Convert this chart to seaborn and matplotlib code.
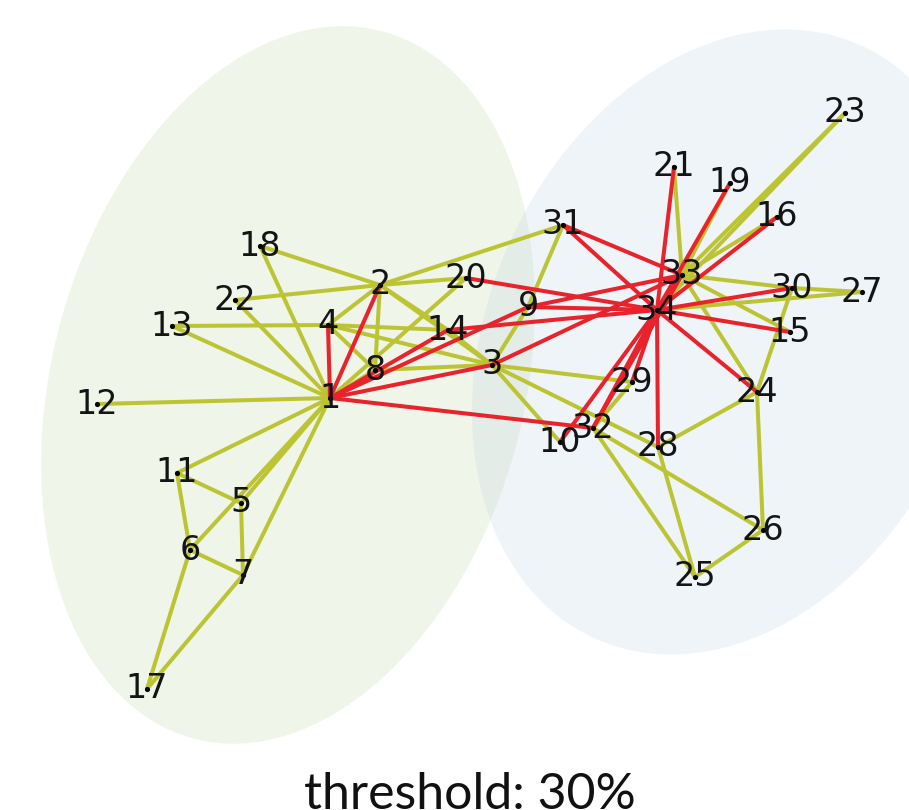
import matplotlib
matplotlib.use("Agg")
import matplotlib.pyplot as plt
from matplotlib.patches import Ellipse
import pandas as pd
import seaborn as sns

# Node ids and layout positions (x to the right, y downward)
node_ids = list(range(1, 35))
node_x = [330, 380, 492, 328, 241, 190, 243, 375, 528, 560,
          177, 97, 172, 448, 790, 777, 147, 260, 730, 466,
          674, 235, 845, 757, 695, 763, 862, 658, 632, 792,
          563, 593, 682, 657]
node_y = [398, 285, 365, 325, 503, 550, 575, 370, 307, 442,
          473, 404, 326, 330, 332, 217, 689, 246, 183, 278,
          167, 300, 113, 392, 577, 530, 292, 447, 382, 288,
          225, 428, 275, 310]

# Zachary karate club friendships
edge_src = [1, 1, 1, 1, 1, 1, 1, 1, 1, 1, 1, 1, 1, 1, 1, 1,
            2, 2, 2, 2, 2, 2, 2, 2,
            3, 3, 3, 3, 3, 3, 3, 3,
            4, 4, 4, 5, 5, 6, 6, 6, 7,
            9, 9, 9, 10, 14, 15, 15, 16, 16, 19, 19, 20, 21, 21, 23, 23,
            24, 24, 24, 24, 24, 25, 25, 25, 26, 27, 27, 28, 29, 29,
            30, 30, 31, 31, 32, 32, 33]
edge_dst = [2, 3, 4, 5, 6, 7, 8, 9, 11, 12, 13, 14, 18, 20, 22, 32,
            3, 4, 8, 14, 18, 20, 22, 31,
            4, 8, 9, 10, 14, 28, 29, 33,
            8, 13, 14, 7, 11, 7, 11, 17, 17,
            31, 33, 34, 34, 34, 33, 34, 33, 34, 33, 34, 34, 33, 34, 33, 34,
            26, 28, 30, 33, 34, 26, 28, 32, 32, 30, 34, 34, 32, 34,
            33, 34, 33, 34, 33, 34, 34]

# Ties above the 30% threshold
strong_edges = [(1, 2), (1, 3), (1, 4), (1, 9), (1, 14), (1, 32),
                (3, 33), (9, 33), (9, 34), (10, 34), (14, 34), (15, 34),
                (16, 34), (19, 34), (20, 34), (21, 34), (24, 34), (28, 34),
                (29, 34), (30, 34), (31, 33), (31, 34), (32, 33), (32, 34),
                (33, 34)]

title_text = "threshold: 30%"

sns.set_style("white")
fig = plt.figure(figsize=(9.09, 8.10), dpi=100)
ax = fig.add_axes([0, 0, 1, 1])

# Community ellipses
ax.add_patch(Ellipse((288, 385), 472, 732, angle=15,
                     facecolor="#b4cf94", alpha=0.2, edgecolor="none", zorder=0))
ax.add_patch(Ellipse((728, 342), 480, 650, angle=24,
                     facecolor="#a8c4e0", alpha=0.18, edgecolor="none", zorder=0))

pos = {n: (x, y) for n, x, y in zip(node_ids, node_x, node_y)}
strong = set(strong_edges)
rows = []
for k, (a, b) in enumerate(zip(edge_src, edge_dst)):
    kind = "strong" if (a, b) in strong else "weak"
    for n in (a, b):
        rows.append({"edge": k, "x": pos[n][0], "y": pos[n][1], "kind": kind})
edges = pd.DataFrame(rows)

weak = edges[edges.kind == "weak"]
red = edges[edges.kind == "strong"]
sns.lineplot(data=weak, x="x", y="y", units="edge", estimator=None, sort=False,
             color="#bcc434", linewidth=2.9, ax=ax, zorder=1)
sns.lineplot(data=red, x="x", y="y", units="edge", estimator=None, sort=False,
             color="#e8232b", linewidth=2.9, ax=ax, zorder=2)

sns.scatterplot(x=node_x, y=node_y, color="black", s=14, linewidth=0, ax=ax, zorder=4)
for n, x, y in zip(node_ids, node_x, node_y):
    ax.text(x, y, str(n), ha="center", va="center", fontsize=24,
            family="DejaVu Sans", color="#141414", zorder=5)

ax.set_xlim(0, 909)
ax.set_ylim(810, 0)
ax.set_axis_off()
ax.text(470, 809, title_text, ha="center", va="baseline", fontsize=36,
        family=["Lato", "DejaVu Sans"], color="#111111")

fig.savefig("out.png", dpi=100)
